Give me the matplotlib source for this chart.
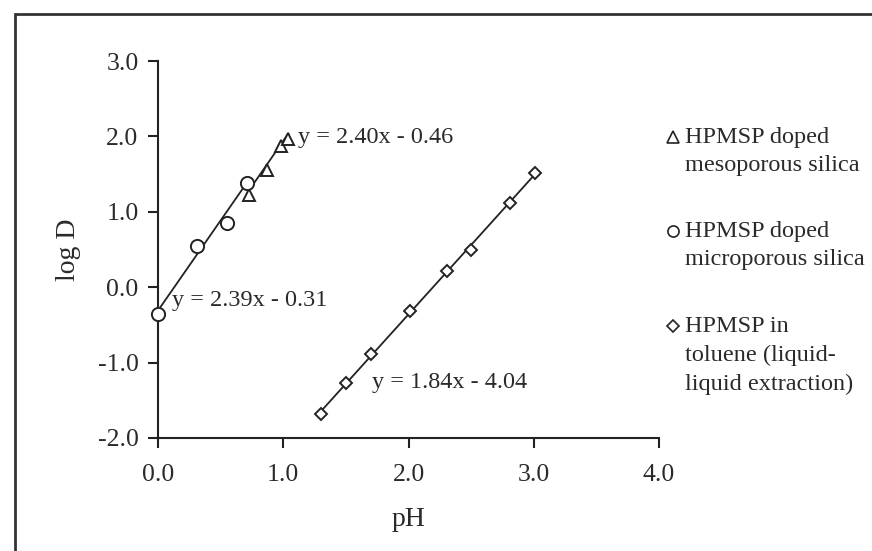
import matplotlib
matplotlib.use("Agg")
import matplotlib.pyplot as plt
from matplotlib.patches import Rectangle
from matplotlib.lines import Line2D
import numpy as np

plt.rcParams['font.family'] = ['Liberation Serif', 'DejaVu Serif']

# HPMSP doped mesoporous silica
meso_ph = [0.73, 0.87, 0.98, 1.04]
meso_logd = [1.22, 1.55, 1.87, 1.96]
meso_fit = (2.40, -0.46)

# HPMSP doped microporous silica
micro_ph = [0.00, 0.31, 0.55, 0.71]
micro_logd = [-0.35, 0.55, 0.85, 1.38]
micro_fit = (2.39, -0.31)

# HPMSP in toluene (liquid-liquid extraction)
tol_ph = [1.30, 1.50, 1.70, 2.01, 2.31, 2.50, 2.81, 3.01]
tol_logd = [-1.68, -1.27, -0.88, -0.31, 0.22, 0.50, 1.12, 1.52]
tol_fit = (1.84, -4.04)

x_ticks = [0.0, 1.0, 2.0, 3.0, 4.0]
y_ticks = [-2.0, -1.0, 0.0, 1.0, 2.0, 3.0]

ink = '#222222'
text_ink = '#2a2a2a'
W, H = 872, 551
fig = plt.figure(figsize=(W / 100, H / 100), dpi=100)

# outer frame of the figure panel
fig.add_artist(Rectangle((15 / W, -0.05), 1.2, 1 - 14 / H + 0.05,
                         transform=fig.transFigure, fill=False,
                         edgecolor='#333333', linewidth=2.0))

ax = fig.add_axes([158 / W, 113 / H, 501 / W, 377 / H])
ax.set_xlim(0, 4)
ax.set_ylim(-2, 3)
for s in ['top', 'right']:
    ax.spines[s].set_visible(False)
for s in ['left', 'bottom']:
    ax.spines[s].set_color(ink)
    ax.spines[s].set_linewidth(1.5)

ax.set_xticks(x_ticks)
ax.set_yticks(y_ticks)
ax.set_xticklabels([f'{v:.1f}' for v in x_ticks])
ax.set_yticklabels([f'{v:.1f}' for v in y_ticks])
ax.tick_params(axis='both', direction='out', length=7, width=1.5,
               colors=ink, labelsize=18.5, labelcolor=text_ink)
ax.tick_params(axis='y', pad=7)
ax.tick_params(axis='x', pad=12)

ax.set_xlabel('pH', fontsize=20, color=text_ink, labelpad=15)
ax.set_ylabel('log D', fontsize=20, color=text_ink, labelpad=12)


def trend(fit, x0, x1):
    xs = np.array([x0, x1])
    ax.plot(xs, fit[0] * xs + fit[1], color=ink, linewidth=1.3, zorder=2)


trend(micro_fit, 0.0, 0.72)
trend(meso_fit, 0.72, 1.04)
trend(tol_fit, min(tol_ph), max(tol_ph))

mk = dict(linestyle='none', markerfacecolor='white', markeredgecolor=ink,
          markeredgewidth=1.4, zorder=3, clip_on=False)
ax.plot(meso_ph, meso_logd, marker='^', markersize=9, **mk)
ax.plot(micro_ph, micro_logd, marker='o', markersize=9.5, **mk)
ax.plot(tol_ph, tol_logd, marker='D', markersize=6.5, **mk)

eq_kw = dict(fontsize=17.5, color=text_ink, va='center', ha='left')
ax.text(1.12, 1.99, f'y = {meso_fit[0]:.2f}x - {abs(meso_fit[1]):.2f}', **eq_kw)
ax.text(0.11, -0.17, f'y = {micro_fit[0]:.2f}x - {abs(micro_fit[1]):.2f}', **eq_kw)
ax.text(1.71, -1.27, f'y = {tol_fit[0]:.2f}x - {abs(tol_fit[1]):.2f}', **eq_kw)

# legend entries at the right of the plot
legend_items = [
    ('^', 8, ['HPMSP doped', 'mesoporous silica'], 137),
    ('o', 8, ['HPMSP doped', 'microporous silica'], 231),
    ('D', 6, ['HPMSP in', 'toluene (liquid-', 'liquid extraction)'], 326),
]
for marker, ms, lines, ytop in legend_items:
    fig.add_artist(Line2D([673 / W], [1 - ytop / H], marker=marker,
                          markersize=ms, markerfacecolor='white',
                          markeredgecolor=ink, markeredgewidth=1.2,
                          linestyle='none', transform=fig.transFigure))
    for i, t in enumerate(lines):
        fig.text(685 / W, 1 - (ytop + i * 29) / H, t, fontsize=17.5,
                 color=text_ink, va='center', ha='left')

fig.savefig('out.png', dpi=100, facecolor='white')
